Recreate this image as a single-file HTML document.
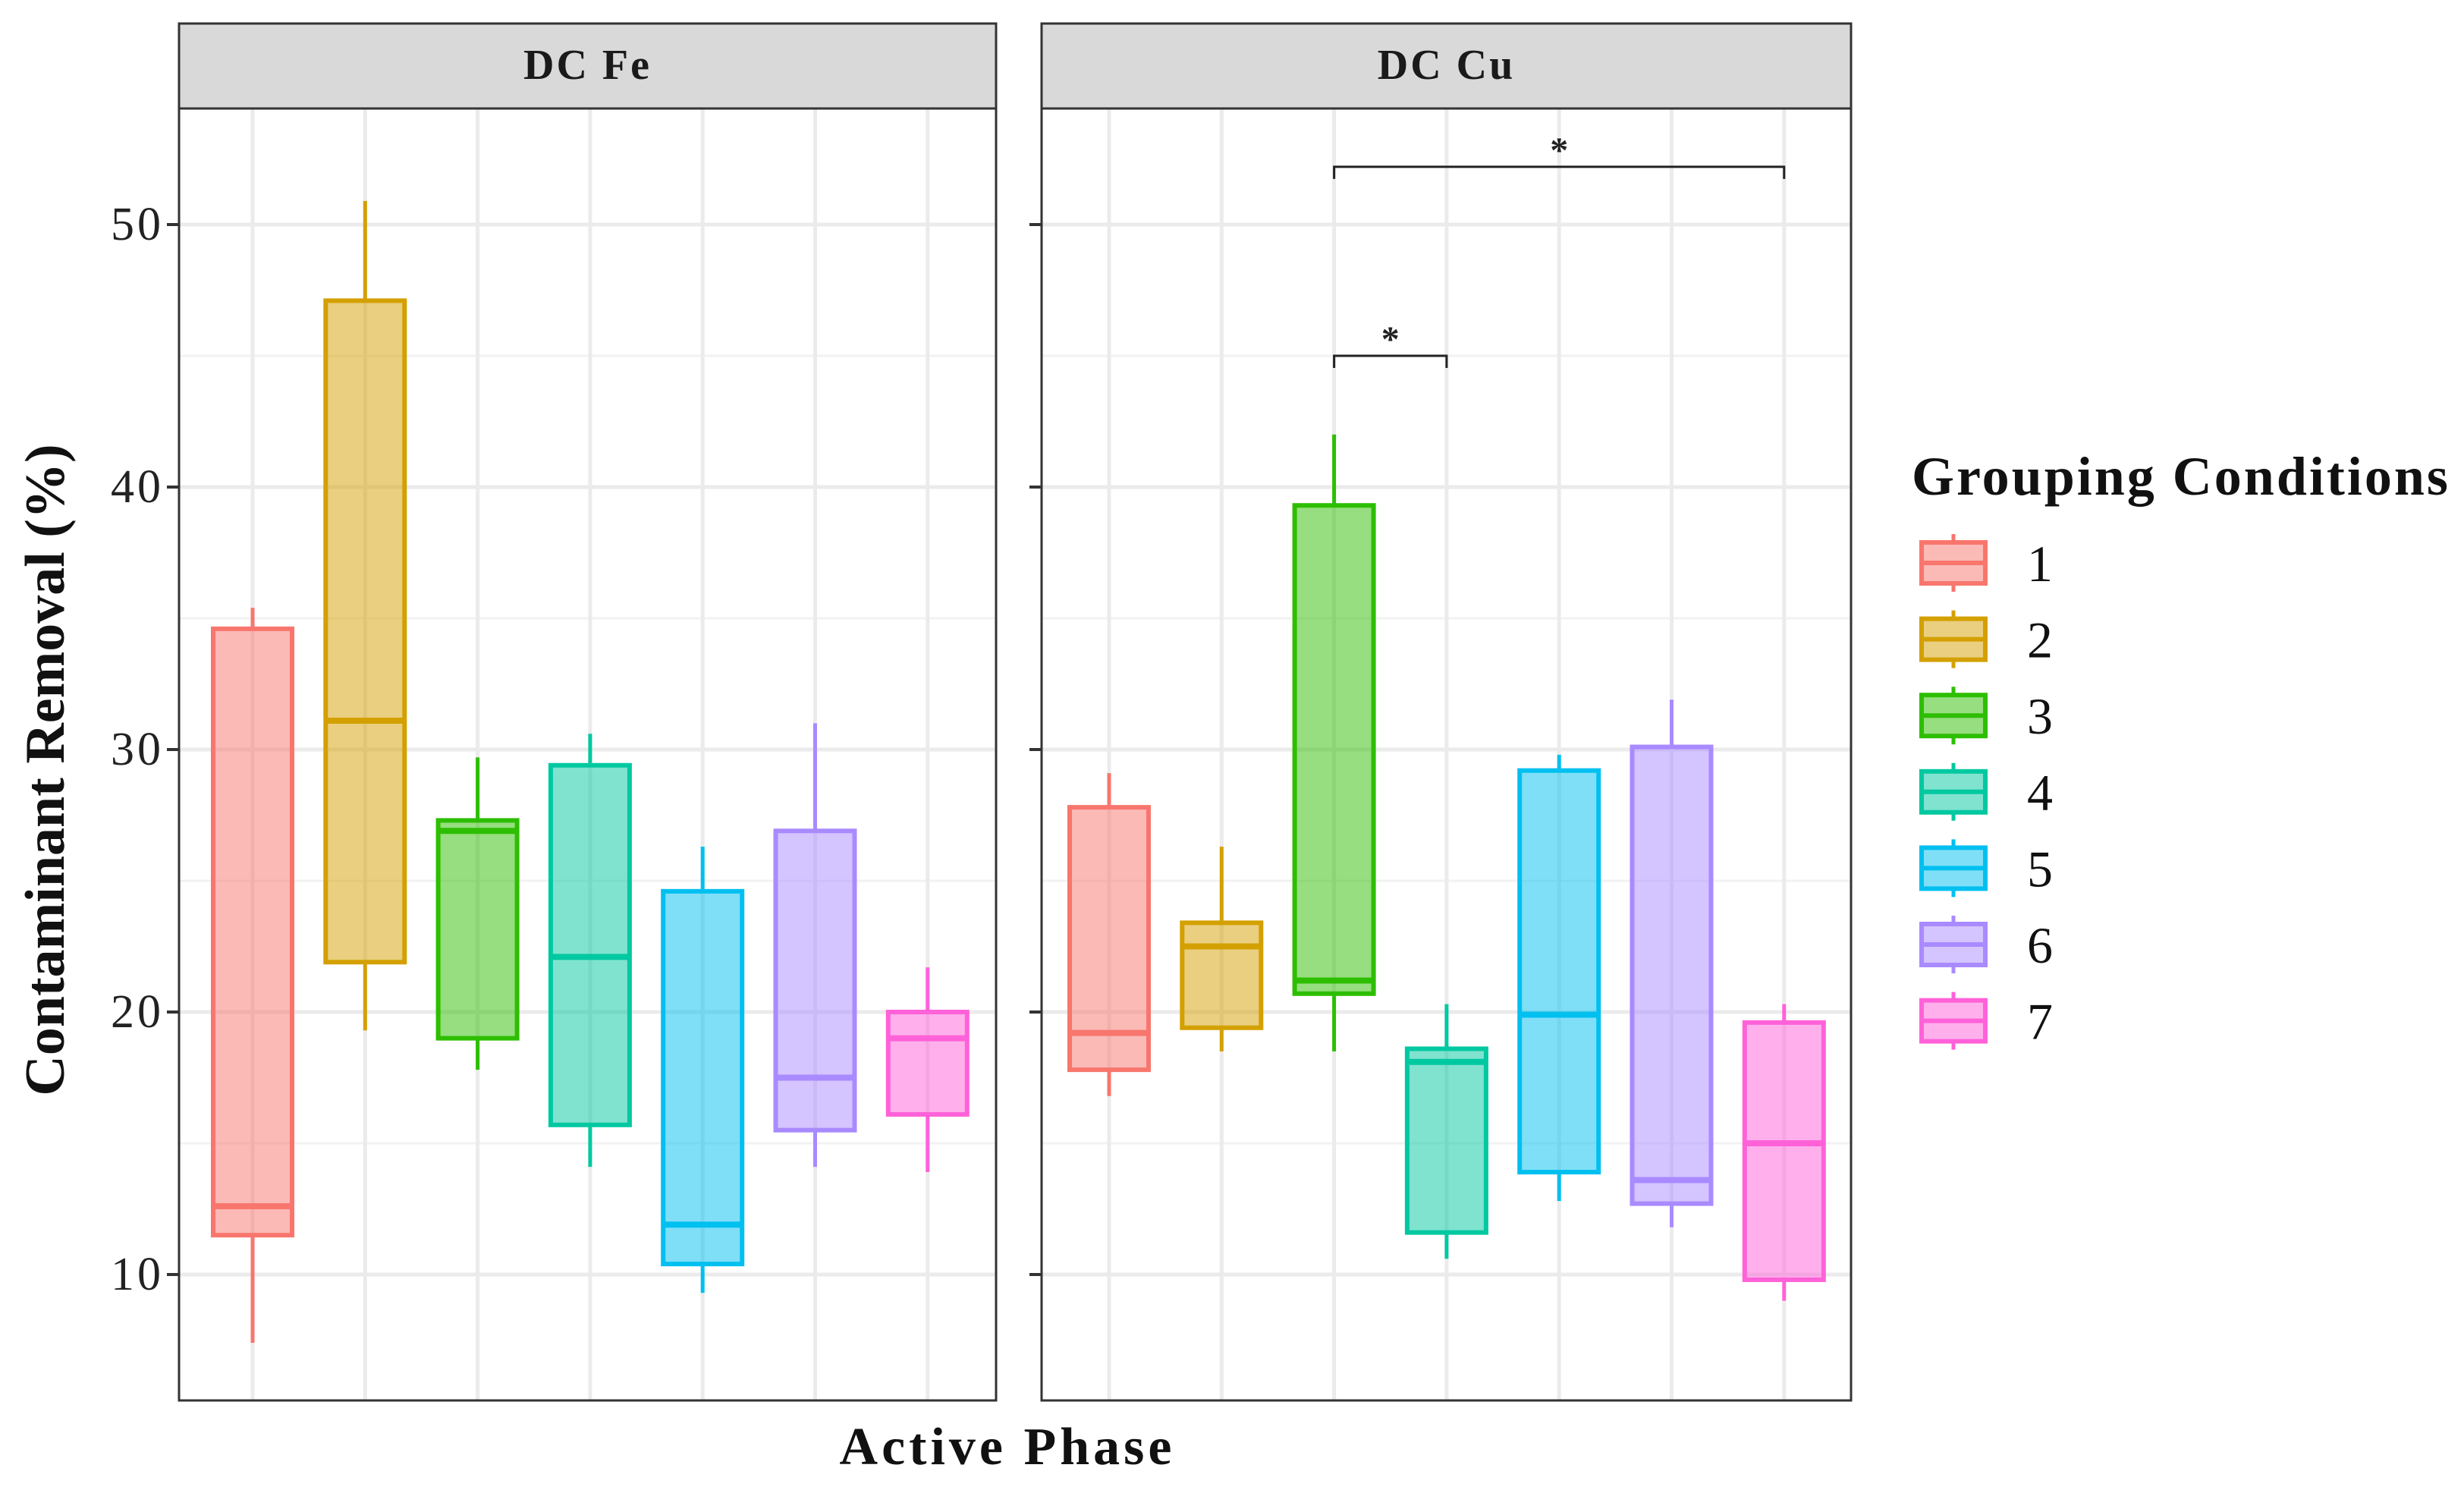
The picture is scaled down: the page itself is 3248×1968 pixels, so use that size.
<!DOCTYPE html>
<html><head><meta charset="utf-8"><style>
html,body{margin:0;padding:0;background:#fff;}
svg{display:block;font-family:"Liberation Serif",serif;}
</style></head><body>
<svg id="chart" width="3248" height="1968" viewBox="0 0 3248 1968" xmlns="http://www.w3.org/2000/svg"></svg>
<script>
const categories = ["1","2","3","4","5","6","7"];
const panels = ["DC Fe","DC Cu"];
const colors = ["#F8766D","#D4A000","#2DBE00","#00C8A0","#00C0F0","#A98AFF","#FF61D9"];
const feMin = [7.4,19.3,17.8,14.1,9.3,14.1,13.9];
const feQ1 = [11.5,21.9,19.0,15.7,10.4,15.5,16.1];
const feMed = [12.6,31.1,26.9,22.1,11.9,17.5,19.0];
const feQ3 = [34.6,47.1,27.3,29.4,24.6,26.9,20.0];
const feMax = [35.4,50.9,29.7,30.6,26.3,31.0,21.7];
const cuMin = [16.8,18.5,18.5,10.6,12.8,11.8,9.0];
const cuQ1 = [17.8,19.4,20.7,11.6,13.9,12.7,9.8];
const cuMed = [19.2,22.5,21.2,18.1,19.9,13.6,15.0];
const cuQ3 = [27.8,23.4,39.3,18.6,29.2,30.1,19.6];
const cuMax = [29.1,26.3,42.0,20.3,29.8,31.9,20.3];
const yTicks = [10,20,30,40,50];
const yMinor = [15,25,35,45];
const brackets = [{from:3,to:7,y:52.2,label:"*"},{from:3,to:4,y:45.0,label:"*"}];

const NS="http://www.w3.org/2000/svg";
const svg=document.getElementById('chart');
function el(tag,attrs,parent,text){const e=document.createElementNS(NS,tag);for(const k in attrs)e.setAttribute(k,attrs[k]);if(text!==undefined)e.textContent=text;(parent||svg).appendChild(e);return e;}
const yTop=143, yBot=1846;
function yS(v){return 296+(50-v)*34.6;}
const panelX=[[236,1313],[1373,2440]];
const firstX=[333,1462];
function xS(p,i){return firstX[p]+148.3*i;}
const stats=[[feMin,feQ1,feMed,feQ3,feMax],[cuMin,cuQ1,cuMed,cuQ3,cuMax]];

panels.forEach((name,p)=>{
  const [a,b]=panelX[p];
  const g=el('g',{},svg);
  
  
  const s=el('rect',{x:a,y:31,width:b-a,height:112,fill:'#d9d9d9',stroke:'#333','stroke-width':3},g);
  
  
  const st=el('text',{x:(a+b)/2,y:104,'text-anchor':'middle','font-size':56,'font-weight':'bold','letter-spacing':3,fill:'#1a1a1a'},g,name);
  
  
  yMinor.forEach(v=>{el('line',{x1:a,x2:b,y1:yS(v),y2:yS(v),stroke:'#f2f2f2','stroke-width':3},g);});
  yTicks.forEach(v=>{const l=el('line',{x1:a,x2:b,y1:yS(v),y2:yS(v),stroke:'#ebebeb','stroke-width':5},g);
    
    
    el('line',{x1:a-16,x2:a,y1:yS(v),y2:yS(v),stroke:'#333','stroke-width':4},g);
    if(p===0){const t=el('text',{x:a-20,y:yS(v)+20,'text-anchor':'end','font-size':62,'letter-spacing':4,fill:'#222'},g,v);
      
      }
  });
  categories.forEach((c,i)=>{el('line',{x1:xS(p,i),x2:xS(p,i),y1:yTop,y2:yBot,stroke:'#ebebeb','stroke-width':5},g);});
  const [mn,q1,md,q3,mx]=stats[p];
  const bw=104;
  categories.forEach((c,i)=>{
    const x=xS(p,i),col=colors[i];
    const bg=el('g',{},g);
    
    
    el('line',{x1:x,x2:x,y1:yS(mx[i]),y2:yS(q3[i]),stroke:col,'stroke-width':5},bg);
    el('line',{x1:x,x2:x,y1:yS(q1[i]),y2:yS(mn[i]),stroke:col,'stroke-width':5},bg);
    el('rect',{x:x-bw/2,y:yS(q3[i]),width:bw,height:yS(q1[i])-yS(q3[i]),fill:col,'fill-opacity':0.5,stroke:col,'stroke-width':6},bg);
    el('line',{x1:x-bw/2,x2:x+bw/2,y1:yS(md[i]),y2:yS(md[i]),stroke:col,'stroke-width':8},bg);
  });
  el('rect',{x:a,y:yTop,width:b-a,height:yBot-yTop,fill:'none',stroke:'#333','stroke-width':3},g);
  if(p===1){
    brackets.forEach(br=>{
      const x1=xS(1,br.from-1),x2=xS(1,br.to-1),y=yS(br.y);
      const bk=el('path',{d:`M${x1},${y+16}V${y}H${x2}V${y+16}`,fill:'none',stroke:'#222','stroke-width':3},g);
      
      
      const t=el('text',{x:(x1+x2)/2,y:y-6,'text-anchor':'middle','font-size':48,'font-weight':'bold',fill:'#222'},g,br.label);
      
      
    });
  }
});
const yt=el('text',{x:0,y:0,transform:'translate(84,1015) rotate(-90)','text-anchor':'middle','font-size':74,'font-weight':'bold',fill:'#111'},svg,'Contaminant Removal (%)');


const xt=el('text',{x:1328,y:1930,'text-anchor':'middle','font-size':70,'font-weight':'bold','letter-spacing':5,fill:'#111'},svg,'Active Phase');


const lg=el('g',{},svg);


const lt=el('text',{x:2520,y:652,'font-size':72,'font-weight':'bold','letter-spacing':3,fill:'#111'},lg,'Grouping Conditions');


categories.forEach((c,i)=>{
  const cy=742+i*100.6,col=colors[i];
  const e=el('g',{},lg);
  
  
  el('line',{x1:2575,x2:2575,y1:cy-38,y2:cy+38,stroke:col,'stroke-width':5},e);
  el('rect',{x:2533,y:cy-27,width:84,height:54,fill:'#fff',stroke:'none'},e);
  el('rect',{x:2533,y:cy-27,width:84,height:54,fill:col,'fill-opacity':0.5,stroke:col,'stroke-width':6},e);
  el('line',{x1:2533,x2:2617,y1:cy,y2:cy,stroke:col,'stroke-width':6},e);
  el('text',{x:2672,y:cy+24,'font-size':68,fill:'#111'},e,c);
});
</script>
</body></html>
